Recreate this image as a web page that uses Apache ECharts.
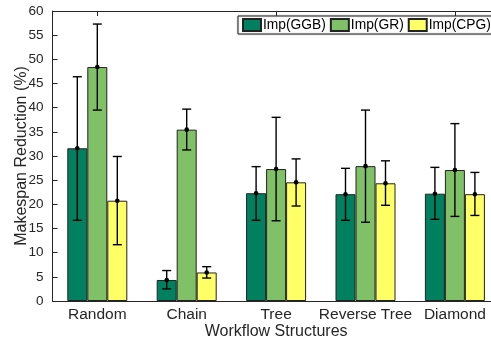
<!DOCTYPE html>
<html>
<head>
<meta charset="utf-8">
<script src="https://cdn.jsdelivr.net/npm/echarts@6/dist/echarts.min.js"></script>
<style>
  html, body { margin: 0; padding: 0; background: #fff; }
  #chart { width: 491px; height: 341px; }
</style>
</head>
<body>
<div id="chart"></div>
<script>
// Workflow structures on the x axis
const categories = ['Random', 'Chain', 'Tree', 'Reverse Tree', 'Diamond'];
const yTicks = [0, 5, 10, 15, 20, 25, 30, 35, 40, 45, 50, 55, 60];

// Mean makespan reduction (%) and error-bar bounds per method
const ggbMean = [31.6, 4.35, 22.3, 22.1, 22.2];
const ggbLow  = [16.7, 2.5, 16.7, 16.7, 16.9];
const ggbHigh = [46.4, 6.3, 27.8, 27.45, 27.65];

const grMean = [48.4, 35.45, 27.3, 27.9, 27.1];
const grLow  = [39.5, 31.25, 16.6, 16.3, 17.5];
const grHigh = [57.3, 39.7, 38.0, 39.5, 36.7];

const cpgMean = [20.75, 5.9, 24.55, 24.35, 22.1];
const cpgLow  = [11.65, 4.75, 19.65, 19.8, 17.7];
const cpgHigh = [29.9, 7.1, 29.4, 29.0, 26.6];

const FONT = "'Liberation Sans', Arial, Helvetica, sans-serif";
const BAR_W = 20;

function errorSeries(low, high, mean, offset) {
  return {
    type: 'custom',
    xAxisIndex: 0,
    yAxisIndex: 0,
    z: 10,
    silent: true,
    data: categories.map((c, i) => [i, low[i], high[i], mean[i]]),
    encode: { x: 0, y: [1, 2] },
    renderItem: function (params, api) {
      const idx = api.value(0);
      const lo = api.coord([idx, api.value(1)]);
      const hi = api.coord([idx, api.value(2)]);
      const mid = api.coord([idx, api.value(3)]);
      const x = lo[0] + offset;
      const cap = 4.5;
      const style = { stroke: '#000', lineWidth: 1.4 };
      return {
        type: 'group',
        children: [
          { type: 'line', shape: { x1: x, y1: lo[1], x2: x, y2: hi[1] }, style: style },
          { type: 'line', shape: { x1: x - cap, y1: hi[1], x2: x + cap, y2: hi[1] }, style: style },
          { type: 'line', shape: { x1: x - cap, y1: lo[1], x2: x + cap, y2: lo[1] }, style: style },
          { type: 'circle', shape: { cx: x, cy: mid[1], r: 2.3 }, style: { fill: '#000' } }
        ]
      };
    }
  };
}

function barSeries(name, values, color) {
  return {
    name: name,
    type: 'bar',
    data: values,
    barWidth: BAR_W,
    barGap: '0%',
    itemStyle: { color: color, borderColor: '#222', borderWidth: 1 }
  };
}

const chart = echarts.init(document.getElementById('chart'), null, { renderer: 'canvas' });

chart.setOption({
  animation: false,
  backgroundColor: '#fff',
  textStyle: { fontFamily: FONT },
  grid: { left: 52.6, top: 11, width: 447, height: 290, containLabel: false, outerBoundsMode: 'none' },
  legend: {
    left: 238,
    top: 16,
    width: 300,
    orient: 'horizontal',
    itemWidth: 18,
    itemHeight: 12,
    itemGap: 4,
    padding: [2, 6, 2, 4],
    borderColor: '#222',
    borderWidth: 1,
    backgroundColor: '#fff',
    shadowColor: 'rgba(0,0,0,0.25)',
    shadowBlur: 2,
    icon: 'rect',
    textStyle: { fontFamily: FONT, fontSize: 13.8, color: '#000', padding: [0, 0, 0, -3] },
    data: ['Imp(GGB)', 'Imp(GR)', 'Imp(CPG)']
  },
  xAxis: [
    {
      type: 'category',
      data: categories,
      position: 'bottom',
      axisLine: { lineStyle: { color: '#262626', width: 1 } },
      axisTick: { show: true, inside: true, alignWithLabel: true, length: 5, lineStyle: { color: '#262626' } },
      axisLabel: { interval: 0, hideOverlap: false, fontFamily: FONT, fontSize: 15.5, color: '#262626', margin: 6 },
      name: 'Workflow Structures',
      nameLocation: 'middle',
      nameGap: 23,
      nameMoveOverlap: false,
      nameTextStyle: { fontFamily: FONT, fontSize: 16, color: '#262626' }
    },
    {
      type: 'category',
      data: categories,
      position: 'top',
      axisLine: { lineStyle: { color: '#262626', width: 1 } },
      axisTick: { show: true, inside: true, alignWithLabel: true, length: 5, lineStyle: { color: '#262626' } },
      axisLabel: { show: false }
    }
  ],
  yAxis: {
    type: 'value',
    min: yTicks[0],
    max: yTicks[yTicks.length - 1],
    interval: 5,
    axisLine: { show: true, lineStyle: { color: '#262626', width: 1 } },
    axisTick: { show: true, inside: true, length: 5, lineStyle: { color: '#262626' } },
    splitLine: { show: false },
    axisLabel: { fontFamily: FONT, fontSize: 13.5, color: '#262626', margin: 9 },
    name: 'Makespan Reduction (%)',
    nameLocation: 'middle',
    nameGap: 23,
    nameMoveOverlap: false,
    nameTextStyle: { fontFamily: FONT, fontSize: 16, color: '#262626' }
  },
  series: [
    barSeries('Imp(GGB)', ggbMean, '#00805f'),
    barSeries('Imp(GR)', grMean, '#80c066'),
    barSeries('Imp(CPG)', cpgMean, '#ffff66'),
    errorSeries(ggbLow, ggbHigh, ggbMean, -BAR_W),
    errorSeries(grLow, grHigh, grMean, 0),
    errorSeries(cpgLow, cpgHigh, cpgMean, BAR_W)
  ]
});
</script>
</body>
</html>
